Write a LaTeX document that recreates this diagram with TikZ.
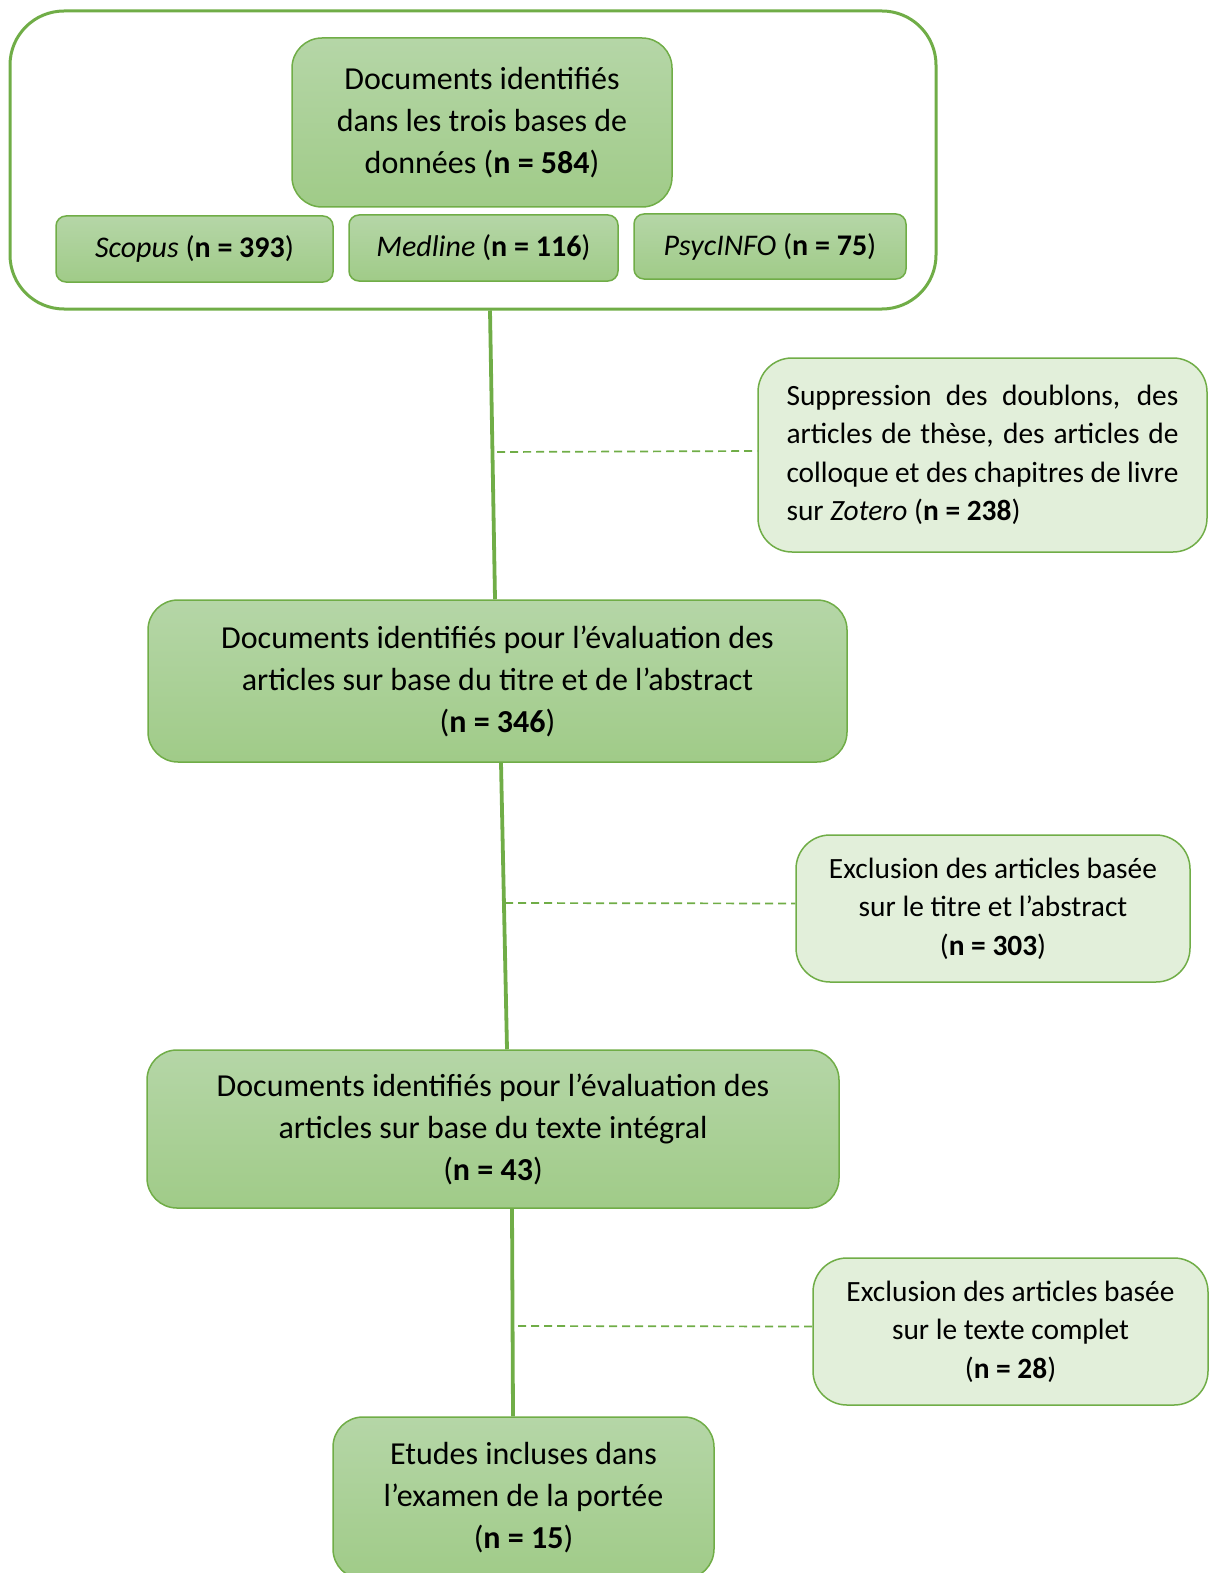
\documentclass[tikz,border=0pt]{standalone}
\usepackage{fontspec}
\setmainfont{Carlito}
\definecolor{boxline}{HTML}{70AD47}
\definecolor{boxtop}{HTML}{B5D6A7}
\definecolor{boxbot}{HTML}{A0CB88}
\definecolor{sidefill}{HTML}{E2EFDA}
\tikzset{
  mainbox/.style={draw=boxline, line width=0.75pt, rounded corners=15pt, top color=boxtop, bottom color=boxbot, align=center, inner sep=0pt, font=\fontsize{16}{21}\selectfont},
  basebox/.style={mainbox, rounded corners=5pt, font=\fontsize{15}{21}\selectfont},
  sidebox/.style={draw=boxline, line width=0.75pt, rounded corners=17pt, fill=sidefill, inner sep=0pt, font=\fontsize{14.7}{19.2}\selectfont},
  flowline/.style={draw=boxline, line width=1.9pt},
  exclline/.style={draw=boxline, line width=0.85pt, dash pattern=on 4pt off 2.5pt}
}
\begin{document}
\begin{tikzpicture}[x=0.5pt, y=-0.5pt]
\useasboundingbox (0,0) rectangle (1217,1573);
% Databases
\node[draw=boxline, line width=1.5pt, rounded corners=27pt, minimum width=463pt, minimum height=149pt] (bases) at (473,160) {};
\node[mainbox, minimum width=190pt, minimum height=84.5pt] (total) at (482,122.5) {Documents identifiés\\dans les trois bases de\\données (\textbf{n = 584})};
\node[basebox, minimum width=138.5pt, minimum height=33pt] (scopus) at (194.5,249) {\textit{Scopus} (\textbf{n = 393})};
\node[basebox, minimum width=134.5pt, minimum height=33pt] (medline) at (483.5,248) {\textit{Medline} (\textbf{n = 116})};
\node[basebox, minimum width=136pt, minimum height=32.5pt] (psyc) at (770,246.5) {\textit{PsycINFO} (\textbf{n = 75})};
% Screening
\node[mainbox, minimum width=349.5pt, minimum height=81pt] (titre) at (497.5,681) {Documents identifiés pour l’évaluation des\\articles sur base du titre et de l’abstract\\(\textbf{n = 346})};
\node[mainbox, minimum width=346pt, minimum height=79pt] (texte) at (493,1129) {Documents identifiés pour l’évaluation des\\articles sur base du texte intégral\\(\textbf{n = 43})};
\node[mainbox, minimum width=190.5pt, minimum height=81pt] (incl) at (523.5,1498) {Etudes incluses dans\\l’examen de la portée\\(\textbf{n = 15})};
% Exclusions
\node[sidebox, minimum width=224.5pt, minimum height=97pt, text width=196pt, align=justify] (doublons) at (982.5,455) {\hyphenpenalty=10000 Suppression des doublons, des\linebreak articles de thèse, des articles de\linebreak colloque et des chapitres de livre\linebreak sur \textit{Zotero} (\textbf{n = 238})};
\node[sidebox, minimum width=197pt, minimum height=73.5pt, align=center] (exclA) at (993,908.5) {Exclusion des articles basée\\sur le titre et l’abstract\\(\textbf{n = 303})};
\node[sidebox, minimum width=197.5pt, minimum height=73.5pt, align=center] (exclB) at (1010.5,1331.5) {Exclusion des articles basée\\sur le texte complet\\(\textbf{n = 28})};
% Connectors
\draw[flowline] ([xshift=8.5pt]bases.south) -- ([xshift=-1.25pt]titre.north);
\draw[flowline] ([xshift=1.75pt]titre.south) -- ([xshift=7pt]texte.north);
\draw[flowline] ([xshift=9.5pt]texte.south) -- ([xshift=-5.25pt]incl.north);
\coordinate (jA) at (497,452);
\coordinate (jB) at (505,903);
\coordinate (jC) at (518,1326);
\draw[exclline] (jA) -- ([yshift=2pt]doublons.west);
\draw[exclline] (jB) -- ([yshift=2.5pt]exclA.west);
\draw[exclline] (jC) -- ([yshift=2.5pt]exclB.west);
\end{tikzpicture}
\end{document}
